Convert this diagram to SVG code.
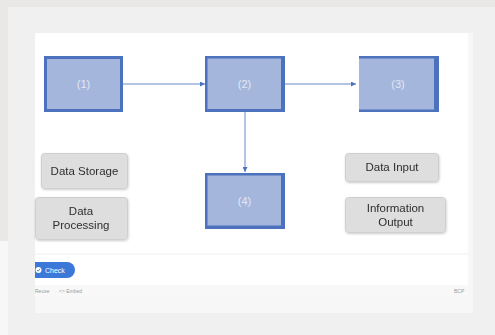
<svg xmlns="http://www.w3.org/2000/svg" width="495" height="335" viewBox="0 0 495 335">
<defs>
<style>
.node rect.b{fill:#a4b6db;}
.lbl{font-family:"Liberation Sans",Arial,sans-serif;font-size:11px;fill:#e3e8f3;text-anchor:middle;}
.gb{fill:#dedede;stroke:#cfcfcf;stroke-width:1;}
.gt{font-family:"Liberation Sans",Arial,sans-serif;font-size:11.5px;fill:#2e2e2e;text-anchor:middle;}
.edge{stroke:#6a89ca;stroke-width:1;fill:none;}
.ft{font-family:"Liberation Sans",Arial,sans-serif;font-size:5px;fill:#999;}
</style>
<marker id="ah" viewBox="0 0 6 6" refX="6" refY="3" markerWidth="5" markerHeight="5" orient="auto">
<path d="M0,0 L6,3 L0,6 z" fill="#4d72bd"/>
</marker>
<filter id="sh" x="-10%" y="-10%" width="125%" height="130%">
<feDropShadow dx="0.5" dy="1" stdDeviation="0.8" flood-color="#000" flood-opacity="0.2"/>
</filter>
</defs>
<!-- page background -->
<rect x="0" y="0" width="495" height="335" fill="#e9e8e6"/>
<rect x="8" y="7" width="487" height="328" fill="#f0f0f0"/>
<rect x="0" y="241" width="8" height="94" fill="#f7f7f7"/>
<!-- card -->
<rect x="35" y="33" width="438" height="280" fill="#f7f7f7"/>
<rect x="35" y="33" width="433" height="264" fill="#ffffff"/>
<line x1="35" y1="254" x2="468" y2="254" stroke="#f0f0f0" stroke-width="1"/>
<rect x="35" y="285" width="433" height="12" fill="#f8f8f8"/>

<!-- connectors -->
<g id="connectors">
<line class="edge" x1="123" y1="84" x2="205" y2="84" marker-end="url(#ah)"/>
<line class="edge" x1="285" y1="84" x2="356" y2="84" marker-end="url(#ah)"/>
<line class="edge" x1="245" y1="112" x2="245" y2="172" marker-end="url(#ah)"/>
</g>

<!-- blue nodes -->
<g id="node1" class="node">
<rect x="44" y="56" width="79" height="56" fill="#4d72bd"/>
<rect class="b" x="47" y="59" width="73" height="50"/>
<text class="lbl" x="83.5" y="88">(1)</text>
</g>
<g id="node2" class="node">
<rect x="205" y="56" width="80" height="56" fill="#4d72bd"/>
<rect class="b" x="207.5" y="58.5" width="73.5" height="50.5"/>
<text class="lbl" x="244.5" y="88">(2)</text>
</g>
<g id="node3" class="node">
<rect x="359" y="56" width="80" height="56" fill="#4d72bd"/>
<rect class="b" x="359" y="58.5" width="75" height="51"/>
<text class="lbl" x="398" y="88">(3)</text>
</g>
<g id="node4" class="node">
<rect x="205" y="173" width="80" height="56" fill="#4d72bd"/>
<rect class="b" x="207.5" y="175.5" width="73.5" height="50"/>
<text class="lbl" x="244.5" y="205">(4)</text>
</g>

<!-- grey nodes -->
<g id="data-storage" filter="url(#sh)">
<rect class="gb" x="41.5" y="153.5" width="86" height="35" rx="3"/>
<text class="gt" x="84.5" y="175">Data Storage</text>
</g>
<g id="data-processing" filter="url(#sh)">
<rect class="gb" x="35.5" y="197.5" width="92" height="42" rx="3"/>
<text class="gt" x="81" y="215">Data</text>
<text class="gt" x="81" y="229">Processing</text>
</g>
<g id="data-input" filter="url(#sh)">
<rect class="gb" x="345.5" y="153.5" width="93" height="28" rx="3"/>
<text class="gt" x="392" y="171">Data Input</text>
</g>
<g id="information-output" filter="url(#sh)">
<rect class="gb" x="345.5" y="197.5" width="100" height="35" rx="3"/>
<text class="gt" x="395.5" y="212">Information</text>
<text class="gt" x="395.5" y="226">Output</text>
</g>

<!-- footer -->
<path d="M35,262 H67 A8,8 0 0 1 67,278 H35 Z" fill="#3b78d8"/>
<circle cx="38.5" cy="270" r="3" fill="#ffffff"/>
<path d="M37,270 L38.2,271.2 L40,268.8" stroke="#3b78d8" stroke-width="0.9" fill="none"/>
<text x="45" y="272.5" font-family="Liberation Sans,Arial,sans-serif" font-size="7" fill="#ffffff">Check</text>
<text class="ft" x="35" y="292.5">Reuse</text>
<text class="ft" x="59" y="292.5">&lt;&gt; Embed</text>
<text class="ft" x="454" y="292.5">BCP</text>
</svg>
